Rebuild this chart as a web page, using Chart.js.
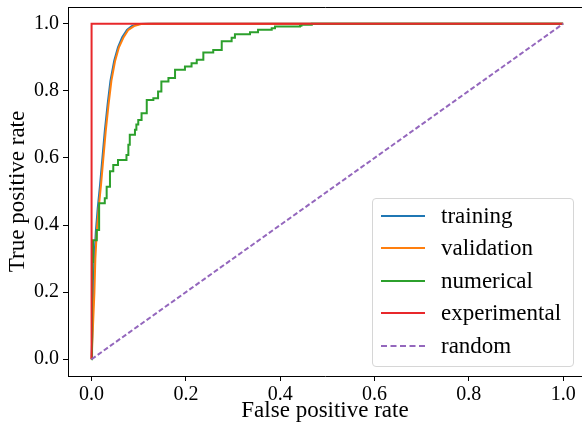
<!DOCTYPE html>
<html>
<head>
<meta charset="utf-8">
<script src="https://cdn.jsdelivr.net/npm/chart.js@4.4.1/dist/chart.umd.min.js"></script>
<style>
    body { margin: 0; background: #fff; }
    #wrap { position: relative; width: 582px; height: 434px; }
    #legend {
        position: absolute; left: 372px; top: 198px; width: 200px; height: 167px;
        border: 1px solid #d6d6d6; border-radius: 4px; background: rgba(255,255,255,0.8);
        font-family: 'Liberation Serif', serif; font-size: 23px; color: #000;
    }
    .row { position: absolute; left: 0; height: 32px; display: flex; align-items: center; }
    .swatch { width: 44px; margin-left: 8px; margin-right: 16px; border-top: 2px solid; }
</style>
</head>
<body>
<div id="wrap">
    <canvas id="roc" width="582" height="434"></canvas>
    <div id="legend"></div>
</div>
<script>
// Tick labels
const xTicks = [0, 0.2, 0.4, 0.6, 0.8, 1.0];
const yTicks = [0, 0.2, 0.4, 0.6, 0.8, 1.0];

// Training ROC
const trainFpr = [0, 0.002, 0.004, 0.006, 0.009, 0.013, 0.018, 0.023, 0.028, 0.034, 0.040, 0.048, 0.056, 0.065, 0.075, 0.085, 0.100, 0.120, 1];
const trainTpr = [0, 0.10, 0.20, 0.30, 0.38, 0.45, 0.52, 0.60, 0.68, 0.76, 0.83, 0.89, 0.93, 0.96, 0.982, 0.993, 0.999, 1, 1];

// Validation ROC
const valFpr = [0, 0.003, 0.006, 0.008, 0.011, 0.015, 0.020, 0.025, 0.030, 0.036, 0.042, 0.050, 0.058, 0.068, 0.078, 0.090, 0.105, 0.130, 1];
const valTpr = [0, 0.10, 0.20, 0.30, 0.38, 0.45, 0.52, 0.60, 0.68, 0.76, 0.83, 0.89, 0.93, 0.96, 0.982, 0.993, 0.999, 1, 1];

// Numerical ROC (staircase corners)
const numFpr = [0, 0.001, 0.002, 0.003, 0.011, 0.016, 0.028, 0.032, 0.039, 0.046, 0.056, 0.074, 0.078, 0.081, 0.092, 0.095, 0.099, 0.106, 0.117, 0.131, 0.141, 0.148, 0.163, 0.177, 0.198, 0.212, 0.223, 0.237, 0.258, 0.276, 0.297, 0.304, 0.336, 0.353, 0.382, 0.389, 0.442, 0.445, 0.467, 1];
const numTpr = [0, 0.24, 0.29, 0.355, 0.385, 0.465, 0.48, 0.514, 0.56, 0.579, 0.594, 0.609, 0.639, 0.669, 0.684, 0.70, 0.713, 0.733, 0.773, 0.778, 0.798, 0.828, 0.838, 0.863, 0.873, 0.882, 0.893, 0.914, 0.922, 0.948, 0.958, 0.969, 0.975, 0.982, 0.987, 0.992, 0.994, 0.997, 1.0, 1.0];

// Experimental ROC
const expFpr = [0, 0, 1];
const expTpr = [0, 1, 1];

// Random classifier
const randFpr = [0, 1];
const randTpr = [0, 1];

const toPoints = (xs, ys) => xs.map((x, i) => ({ x: x, y: ys[i] }));

const series = [
    { label: 'training', color: '#1f77b4', data: toPoints(trainFpr, trainTpr) },
    { label: 'validation', color: '#ff7f0e', data: toPoints(valFpr, valTpr) },
    { label: 'numerical', color: '#2ca02c', data: toPoints(numFpr, numTpr), stepped: 'before' },
    { label: 'experimental', color: '#e8282b', data: toPoints(expFpr, expTpr) },
    { label: 'random', color: '#9467bd', data: toPoints(randFpr, randTpr), dash: [5, 2.5] }
];

const font = 'Liberation Serif';
const axisCommon = {
    type: 'linear',
    grid: { display: true, drawOnChartArea: false, drawTicks: true, tickLength: 5, color: '#000', lineWidth: 1 },
    border: { display: true, color: '#000', width: 1 },
    ticks: { color: '#000', font: { family: font, size: 20 }, callback: v => v.toFixed(1) }
};

new Chart(document.getElementById('roc'), {
    type: 'line',
    data: {
        datasets: series.map((s, i) => ({
            label: s.label,
            data: s.data,
            borderColor: s.color,
            borderWidth: 2,
            borderDash: s.dash || [],
            stepped: s.stepped || false,
            pointRadius: 0,
            tension: 0,
            fill: false,
            order: series.length - i
        }))
    },
    options: {
        responsive: false,
        animation: false,
        layout: { padding: { top: 7, right: 0, left: 0, bottom: 0 } },
        plugins: { legend: { display: false }, tooltip: { enabled: false } },
        scales: {
            x: {
                ...axisCommon,
                min: -0.05, max: 1.04,
                afterBuildTicks: s => { s.ticks = xTicks.map(v => ({ value: v })); },
                afterFit: s => { s.height = 58; s.paddingLeft = 0; s.paddingRight = 0; },
                ticks: { ...axisCommon.ticks, padding: 2, maxRotation: 0 },
                title: { display: true, text: 'False positive rate', color: '#000', font: { family: font, size: 23 }, padding: { top: 0, bottom: 9 } }
            },
            xTop: {
                type: 'linear', position: 'top', min: -0.05, max: 1.04,
                grid: { display: false },
                border: { display: true, color: '#000', width: 1 },
                ticks: { display: false },
                afterFit: s => { s.height = 0; s.paddingLeft = 0; s.paddingRight = 0; }
            },
            y: {
                ...axisCommon,
                min: -0.05, max: 1.05,
                afterBuildTicks: s => { s.ticks = yTicks.map(v => ({ value: v })); },
                afterFit: s => { s.width = 68; s.paddingTop = 0; s.paddingBottom = 0; },
                ticks: { ...axisCommon.ticks, padding: 4 },
                title: { display: true, text: 'True positive rate', color: '#000', font: { family: font, size: 23 }, padding: { top: 4, bottom: 0 } }
            }
        }
    }
});

// Legend box inside the plot
const legend = document.getElementById('legend');
series.forEach((s, i) => {
    const row = document.createElement('div');
    row.className = 'row';
    row.style.top = (1 + i * 32.4) + 'px';
    const sw = document.createElement('span');
    sw.className = 'swatch';
    sw.style.borderTopColor = s.color;
    if (s.dash) sw.style.borderTopStyle = 'dashed';
    const txt = document.createElement('span');
    txt.textContent = s.label;
    row.appendChild(sw);
    row.appendChild(txt);
    legend.appendChild(row);
});
</script>
</body>
</html>
